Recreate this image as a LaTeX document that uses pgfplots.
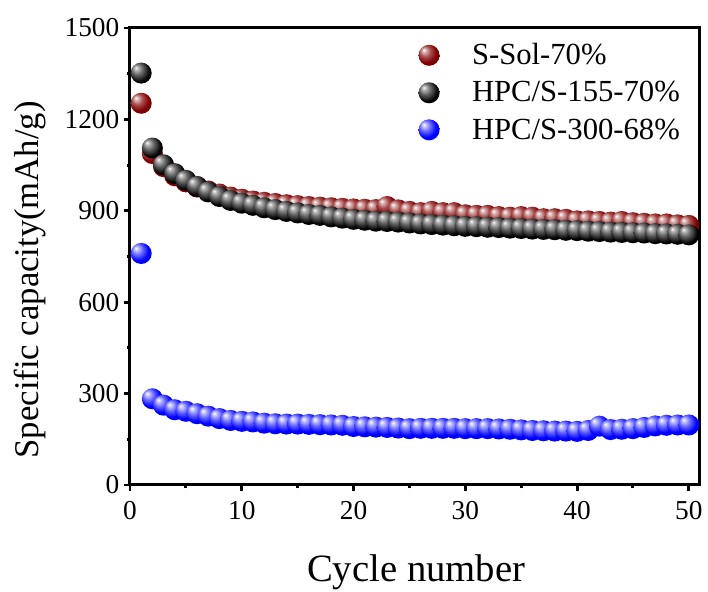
\documentclass[border=0pt]{standalone}
\usepackage{pgfplots}
\pgfplotsset{compat=1.18}
\usepackage{fontspec}
\setmainfont{Liberation Serif}

\definecolor{solred}{RGB}{128,0,0}
\definecolor{hpcblue}{RGB}{0,0,255}

% glossy sphere shadings for the markers
\pgfdeclareradialshading{redballsh}{\pgfqpoint{-13bp}{13bp}}{%
  color(0bp)=(white); color(4bp)=(solred!25!white); color(13bp)=(solred!70!white);
  color(24bp)=(solred); color(50bp)=(solred!85!black)}
\pgfdeclareradialshading{blackballsh}{\pgfqpoint{-13bp}{13bp}}{%
  color(0bp)=(white); color(4bp)=(black!25); color(13bp)=(black!60);
  color(26bp)=(black); color(50bp)=(black)}
\pgfdeclareradialshading{blueballsh}{\pgfqpoint{-13bp}{13bp}}{%
  color(0bp)=(white); color(4bp)=(hpcblue!20!white); color(13bp)=(hpcblue!60!white);
  color(24bp)=(hpcblue); color(50bp)=(hpcblue)}

\pgfdeclareplotmark{redball}{\pgfpathcircle{\pgfpointorigin}{\pgfplotmarksize}\pgfshadepath{redballsh}{0}\pgfusepath{}}
\pgfdeclareplotmark{blackball}{\pgfpathcircle{\pgfpointorigin}{\pgfplotmarksize}\pgfshadepath{blackballsh}{0}\pgfusepath{}}
\pgfdeclareplotmark{blueball}{\pgfpathcircle{\pgfpointorigin}{\pgfplotmarksize}\pgfshadepath{blueballsh}{0}\pgfusepath{}}

\begin{document}
\begin{tikzpicture}
\useasboundingbox (-97.5pt,-80.25pt) rectangle (433.5pt,363.75pt);
\begin{axis}[
  scale only axis,
  width=427.5pt, height=342.75pt,
  xmin=0, xmax=51, ymin=0, ymax=1500,
  xtick={0,10,...,50}, ytick={0,300,...,1500},
  minor tick num=1,
  xtick pos=bottom, ytick pos=left,
  tick align=outside,
  major tick length=4.5pt, minor tick length=2.5pt,
  every tick/.style={line width=2.2pt, black},
  axis line style={line width=2.25pt},
  /pgf/number format/1000 sep={},
  /pgf/number format/assume math mode=true,
  ticklabel style={font=\fontsize{20.5}{22}\selectfont},
  xticklabel style={yshift=-4pt},
  xlabel={Cycle number},
  ylabel={Specific capacity(mAh/g)},
  xlabel style={font=\fontsize{29}{31}\selectfont, at={(axis description cs:0.502,-0.19)}, anchor=center},
  ylabel style={font=\fontsize{26}{28}\selectfont, at={(axis description cs:-0.175,0.449)}, anchor=center},
  legend style={draw=none, fill=none, at={(axis description cs:0.484,0.978)}, anchor=north west,
    font=\fontsize{23}{24}\selectfont, row sep=7pt},
  legend cell align=left,
  legend image code/.code={\path (-14pt,-6pt) (30pt,6pt); \draw[#1] plot coordinates {(0pt,0pt)};},
  mark size=7.9pt,
]
\addplot[only marks, mark=redball] coordinates {
(1,1253) (2,1088) (3,1045) (4,1015) (5,995) (6,978) (7,965) (8,955) (9,945) (10,938)
(11,932) (12,928) (13,924) (14,920) (15,917) (16,914) (17,912) (18,910) (19,908) (20,906)
(21,905) (22,904) (23,914) (24,903) (25,898) (26,894) (27,898) (28,894) (29,894) (30,887)
(31,885) (32,885) (33,881) (34,879) (35,881) (36,879) (37,874) (38,874) (39,872) (40,867)
(41,867) (42,865) (43,863) (44,865) (45,861) (46,859) (47,857) (48,857) (49,854) (50,852)
};
\addlegendentry{S-Sol-70\%}
\addplot[only marks, mark=blackball] coordinates {
(1,1352) (2,1106) (3,1051) (4,1022) (5,1000) (6,980) (7,962) (8,947) (9,934) (10,925)
(11,918) (12,910) (13,904) (14,898) (15,893) (16,888) (17,885) (18,880) (19,876) (20,872)
(21,869) (22,866) (23,865) (24,863) (25,860) (26,857) (27,855) (28,853) (29,851) (30,849)
(31,848) (32,846) (33,845) (34,843) (35,842) (36,840) (37,839) (38,838) (39,836) (40,835)
(41,833) (42,832) (43,830) (44,829) (45,828) (46,827) (47,825) (48,824) (49,823) (50,821)
};
\addlegendentry{HPC/S-155-70\%}
\addplot[only marks, mark=blueball] coordinates {
(1,760) (2,283) (3,262) (4,247) (5,242) (6,234) (7,226) (8,218) (9,212) (10,209)
(11,207) (12,203) (13,201) (14,200) (15,200) (16,199) (17,198) (18,197) (19,196) (20,192)
(21,191) (22,190) (23,189) (24,187) (25,185) (26,186) (27,186) (28,186) (29,186) (30,185)
(31,185) (32,185) (33,184) (34,183) (35,181) (36,179) (37,178) (38,177) (39,177) (40,176)
(41,179) (42,193) (43,182) (44,183) (45,185) (46,189) (47,194) (48,196) (49,197) (50,197)
};
\addlegendentry{HPC/S-300-68\%}
\end{axis}
\end{tikzpicture}
\end{document}
